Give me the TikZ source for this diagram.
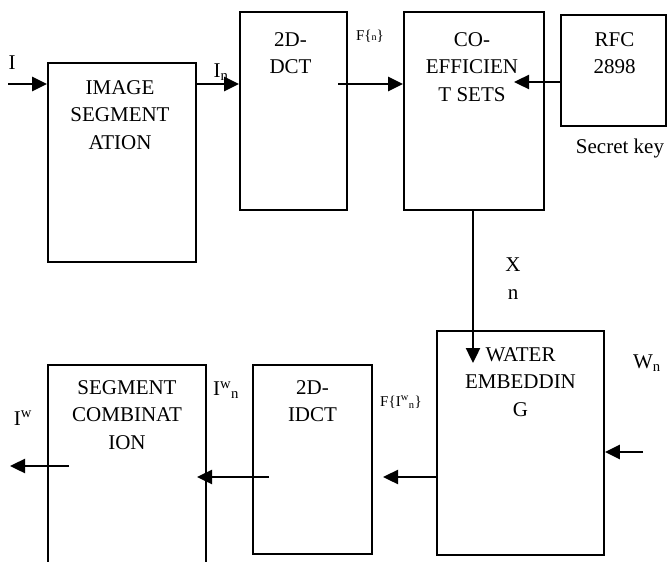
\documentclass[tikz,border=0pt]{standalone}
\usepackage{fontspec}
\setmainfont{Liberation Serif}
\usetikzlibrary{arrows.meta}

\begin{document}
\begin{tikzpicture}[x=1pt, y=-1pt, >={Triangle[length=15pt, width=14pt]},
    blk/.style={draw, line width=1.8pt, inner sep=0pt},
    txt/.style={anchor=north, align=center, inner sep=0pt, font=\fontsize{21}{27.5}\selectfont},
    lbl/.style={inner sep=0pt, font=\fontsize{21}{25}\selectfont},
    sml/.style={inner sep=0pt, font=\fontsize{15}{18}\selectfont},
    arr/.style={->, line width=2.4pt}]
  \useasboundingbox (0,0) rectangle (667,562);
  \clip (0,0) rectangle (667,562);
  % blocks
  \node[blk, minimum width=148pt, minimum height=199pt] (seg) at (122,162.5) {};
  \node[blk, minimum width=107pt, minimum height=198pt] (dct) at (293.5,111) {};
  \node[blk, minimum width=140pt, minimum height=198pt] (coef) at (474,111) {};
  \node[blk, minimum width=105pt, minimum height=111pt] (rfc) at (613.5,70.5) {};
  \node[blk, minimum width=167pt, minimum height=224pt] (water) at (520.5,443) {};
  \node[blk, minimum width=119pt, minimum height=189pt] (idct) at (312.5,459.5) {};
  \node[blk, minimum width=158pt, minimum height=215pt] (comb) at (127,472.5) {};
  % block texts
  \node[txt] (segtxt) at ([xshift=-2pt, yshift=-18pt]seg.north) {IMAGE\\SEGMENT\\ATION};
  \node[txt] (dcttxt) at ([xshift=-3pt, yshift=-21pt]dct.north) {2D-\\DCT};
  \node[txt] (coeftxt) at ([xshift=-2pt, yshift=-21pt]coef.north) {CO-\\EFFICIEN\\T SETS};
  \node[txt] (rfctxt) at ([xshift=1pt, yshift=-18pt]rfc.north) {RFC\\2898};
  \node[txt] (watertxt) at ([yshift=-17pt]water.north) {WATER\\EMBEDDIN\\G};
  \node[txt] (idcttxt) at ([xshift=0pt, yshift=-16pt]idct.north) {2D-\\IDCT};
  \node[txt] (combtxt) at ([yshift=-16pt]comb.north) {SEGMENT\\COMBINAT\\ION};
  % labels
  \node[lbl] (lin) at (12,63) {I};
  \node[lbl] (lin2) at (221,72) {I\textsubscript{n}};
  \node[sml] (lf) at (370,36) {F\{{\fontsize{10}{12}\selectfont n}\}};
  \node[lbl] (lkey) at (620,148) {Secret key};
  \node[lbl] (lx) at (513,265) {X};
  \node[lbl] (lxn) at (513,295) {n};
  \node[lbl] (lw) at (647,363) {W\textsubscript{n}};
  \node[sml] (lfi) at (401,402) {F\{I\textsuperscript{w}\textsubscript{n}\}};
  \node[lbl] (liwn) at (226,390) {I\textsuperscript{w}\textsubscript{n}};
  \node[lbl] (liw) at (23,418) {I\textsuperscript{w}};
  % connectors
  \coordinate (in) at (8,84);
  \coordinate (fstart) at (338,84);
  \coordinate (ktip) at (514,82);
  \coordinate (xtip) at (473,363);
  \coordinate (win) at (643,452);
  \coordinate (ftip) at (383,477);
  \coordinate (iwstart) at (269,477);
  \coordinate (iwtip) at (197,477);
  \coordinate (outstart) at (69,466);
  \coordinate (out) at (10,466);
  \draw[arr] (in) -- (in -| seg.west);
  \draw[arr] (seg.east |- in) -- (dct.west |- in);
  \draw[arr] (fstart) -- (fstart -| coef.west);
  \draw[arr] (rfc.west |- ktip) -- (ktip);
  \draw[arr] (coef.south -| xtip) -- (xtip);
  \draw[arr] (win) -- (win -| water.east);
  \draw[arr] (water.west |- ftip) -- (ftip);
  \draw[arr] (iwstart) -- (iwtip);
  \draw[arr] (outstart) -- (out);
\end{tikzpicture}
\end{document}
